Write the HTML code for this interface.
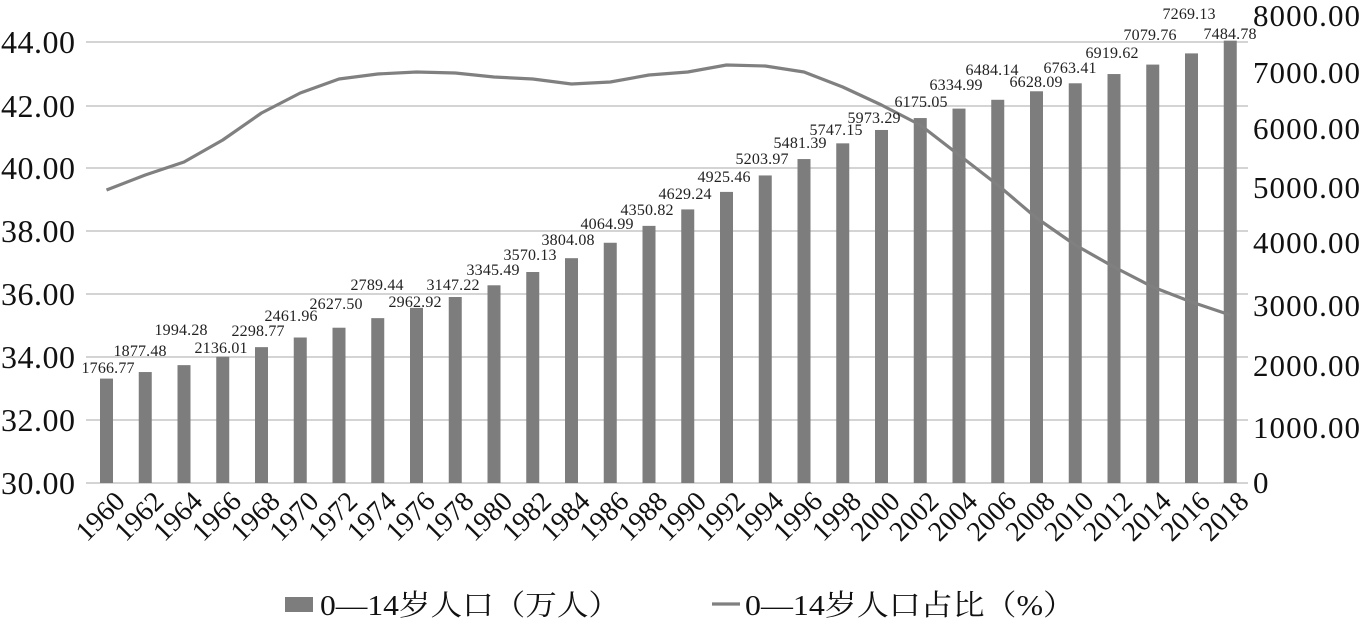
<!DOCTYPE html>
<html><head><meta charset="utf-8"><style>
html,body{margin:0;padding:0;background:#fff;}
svg{display:block;}
text{font-family:"Liberation Serif","Times New Roman","DejaVu Serif",serif;}
.cjk{font-family:"Liberation Serif","Noto Serif CJK SC","Noto Sans CJK SC",serif;}
</style></head><body>
<svg width="1360" height="622" viewBox="0 0 1360 622" xmlns="http://www.w3.org/2000/svg">
<g stroke="#c6c6c6" stroke-width="1.5">
<line x1="86" y1="42" x2="1248" y2="42"/>
<line x1="86" y1="106" x2="1248" y2="106"/>
<line x1="86" y1="168" x2="1248" y2="168"/>
<line x1="86" y1="231" x2="1248" y2="231"/>
<line x1="86" y1="294" x2="1248" y2="294"/>
<line x1="86" y1="357" x2="1248" y2="357"/>
<line x1="86" y1="420" x2="1248" y2="420"/>
<line x1="86" y1="483" x2="1248" y2="483"/>
</g>
<g font-size="32" fill="#111" font-family="Liberation Serif, serif">
<text x="1" y="53" textLength="74">44.00</text><text x="1" y="117" textLength="74">42.00</text><text x="1" y="179" textLength="74">40.00</text>
<text x="1" y="242" textLength="74">38.00</text><text x="1" y="305" textLength="74">36.00</text><text x="1" y="368" textLength="74">34.00</text>
<text x="1" y="431" textLength="74">32.00</text><text x="1" y="494" textLength="74">30.00</text>
</g>
<g font-size="31" fill="#111" font-family="Liberation Serif, serif">
<text x="1253" y="26" textLength="107">8000.00</text><text x="1253" y="83" textLength="107">7000.00</text><text x="1253" y="139" textLength="107">6000.00</text>
<text x="1253" y="198" textLength="107">5000.00</text><text x="1253" y="253" textLength="107">4000.00</text><text x="1253" y="316" textLength="107">3000.00</text>
<text x="1253" y="376" textLength="107">2000.00</text><text x="1253" y="438" textLength="107">1000.00</text><text x="1253" y="493">0</text>
</g>
<g id="bars" fill="#7d7d7d"></g>
<path id="ln" fill="none" stroke="#808080" stroke-width="3.2" stroke-linejoin="round"/>
<g id="labels" font-size="16" fill="#222" text-anchor="middle" font-family="Liberation Serif, serif"></g>
<g id="xl" font-size="28" fill="#111" text-anchor="end" font-family="Liberation Serif, serif"></g>
<rect x="285" y="597" width="28" height="15" fill="#7d7d7d"/>
<text class="cjk" x="320" y="615" font-size="29" fill="#111" textLength="300" lengthAdjust="spacingAndGlyphs">0—14岁人口（万人）</text>
<line x1="712" y1="604" x2="740" y2="604" stroke="#808080" stroke-width="3.2"/>
<text class="cjk" x="745" y="615" font-size="29" fill="#111" textLength="330" lengthAdjust="spacingAndGlyphs">0—14岁人口占比（%）</text>
<script>
var v=[1766.77,1877.48,1994.28,2136.01,2298.77,2461.96,2627.50,2789.44,2962.92,3147.22,3345.49,3570.13,3804.08,4064.99,4350.82,4629.24,4925.46,5203.97,5481.39,5747.15,5973.29,6175.05,6334.99,6484.14,6628.09,6763.41,6919.62,7079.76,7269.13,7484.78];
var lx=[108,140,181,221,258,291,336,377,415,453,493,530,568,607,647,685,724,762,800,836,874,921,956,992,1036,1070,1112,1150,1189,1230];
var ly=[368,351,330,348,331,316,304,285,302,285,270,255,240,224,210,194,177,159,143,130,118,102,85,70,82,68,53,35,14,34];
var ys=[190,175,162,140,113,93,79,74,72,73,77,79,84,82,75,72,65,66,72,87,105,125,155,185,218,245,267,287,302,315];
var ns="http://www.w3.org/2000/svg",b=document.getElementById('bars'),L=document.getElementById('labels'),X=document.getElementById('xl'),d="";
for(var i=0;i<30;i++){var cx=106.5+i*38.75,t=483-v[i]*0.0591;
var r=document.createElementNS(ns,'rect');r.setAttribute('x',cx-6.5);r.setAttribute('y',t);r.setAttribute('width',13);r.setAttribute('height',483-t);b.appendChild(r);
var tx=document.createElementNS(ns,'text');tx.setAttribute('x',lx[i]);tx.setAttribute('y',ly[i]+5);tx.setAttribute('textLength',53);tx.textContent=v[i].toFixed(2);L.appendChild(tx);
var xt=document.createElementNS(ns,'text');xt.setAttribute('transform','translate('+(cx+20)+',503) rotate(-45)');xt.textContent=1960+2*i;X.appendChild(xt);
d+=(i?" L":"M")+cx+" "+ys[i];}
document.getElementById('ln').setAttribute('d',d);
</script>
</svg>
</body></html>
